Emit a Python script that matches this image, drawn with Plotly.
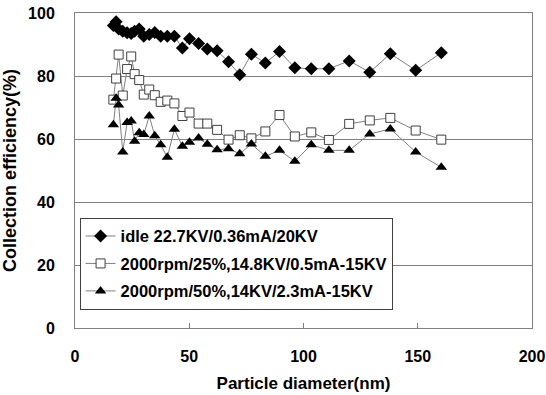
import plotly.graph_objects as go

# Particle diameter channels (nm)
diameter = [16.8, 18.0, 19.1, 20.9, 22.8, 24.6, 26.1, 28.1, 30.1, 32.5, 34.9,
            37.5, 40.4, 43.5, 47.0, 50.1, 54.1, 57.9, 62.2, 67.2, 72.1, 77.2,
            83.3, 89.5, 96.2, 103.4, 111.1, 120.0, 129.0, 138.0, 149.1, 160.3]

# Collection efficiency (%) for each operating condition
idle = [96.0, 97.2, 94.9, 94.2, 93.7, 93.5, 94.2, 94.9, 92.6, 93.2, 93.8,
        92.6, 92.6, 92.6, 88.9, 91.8, 90.3, 88.6, 88.0, 84.5, 80.4, 86.9,
        84.1, 87.8, 82.6, 82.3, 82.3, 84.8, 81.2, 87.1, 81.8, 87.4]
rpm_25 = [72.5, 79.2, 86.8, 73.8, 82.2, 86.2, 80.6, 78.7, 74.1, 75.7, 73.9,
          71.8, 72.2, 71.3, 67.3, 68.4, 64.9, 64.9, 62.9, 59.8, 61.2, 60.2,
          62.4, 67.6, 60.8, 62.1, 59.7, 64.8, 65.9, 66.7, 62.7, 59.8]
rpm_50 = [64.5, 72.9, 70.8, 55.9, 65.2, 65.7, 59.3, 62.0, 61.4, 67.3, 61.0,
          58.2, 54.2, 63.1, 57.7, 59.0, 60.3, 58.3, 56.6, 56.9, 55.3, 58.4,
          54.5, 56.4, 52.9, 58.2, 56.4, 56.4, 61.6, 63.2, 55.9, 51.0]

series_names = ["idle 22.7KV/0.36mA/20KV",
                "2000rpm/25%,14.8KV/0.5mA-15KV",
                "2000rpm/50%,14KV/2.3mA-15KV"]

FONT = "Arial, 'Liberation Sans', sans-serif"
LINE = "#808080"

fig = go.Figure()
fig.add_trace(go.Scatter(
    x=diameter, y=idle, name=series_names[0], mode="lines+markers",
    legendgroup="a",
    line=dict(color=LINE, width=1),
    marker=dict(symbol="diamond", size=10, color="black"),
))
fig.add_trace(go.Scatter(
    x=diameter, y=rpm_25, name=series_names[1], mode="lines+markers",
    legendgroup="b",
    line=dict(color=LINE, width=1),
    marker=dict(symbol="square", size=9, color="white",
                line=dict(color="#404040", width=1)),
))
fig.add_trace(go.Scatter(
    x=diameter, y=rpm_50, name=series_names[2], mode="lines+markers",
    legendgroup="c",
    line=dict(color=LINE, width=1),
    marker=dict(symbol="triangle-up", size=10, color="black"),
))

fig.update_layout(
    width=546, height=395,
    margin=dict(l=75, r=14, t=13, b=67),
    paper_bgcolor="white", plot_bgcolor="white",
    font=dict(family=FONT, size=16, color="black"),
    showlegend=True,
    legend=dict(
        x=0.01, y=0.35, xanchor="left", yanchor="top",
        bgcolor="white", bordercolor="#404040", borderwidth=1,
        font=dict(family=FONT, size=16.5, color="black", weight="bold"),
        tracegroupgap=3, itemwidth=30,
    ),
)

fig.update_xaxes(
    range=[0, 200], tickvals=[0, 50, 100, 150, 200],
    showgrid=False, zeroline=False, automargin=False,
    showline=True, mirror=True, linecolor=LINE, linewidth=1,
    ticks="inside", ticklen=5, tickcolor=LINE,
    ticklabelstandoff=14, ticklabeloverflow="allow",
    tickfont=dict(family=FONT, size=16, weight="bold"),
    title=dict(text="Particle diameter(nm)", standoff=12,
               font=dict(family=FONT, size=17, weight="bold")),
)
fig.update_yaxes(
    range=[0, 100], tickvals=[0, 20, 40, 60, 80, 100],
    showgrid=True, gridcolor=LINE, gridwidth=1, zeroline=False,
    automargin=False,
    showline=True, mirror=True, linecolor=LINE, linewidth=1,
    ticks="", ticklabelstandoff=16,
    tickfont=dict(family=FONT, size=16, weight="bold"),
    title=dict(text="Collection efficiency(%)", standoff=8,
               font=dict(family=FONT, size=18, weight="bold")),
)

fig.write_html("out.html")
